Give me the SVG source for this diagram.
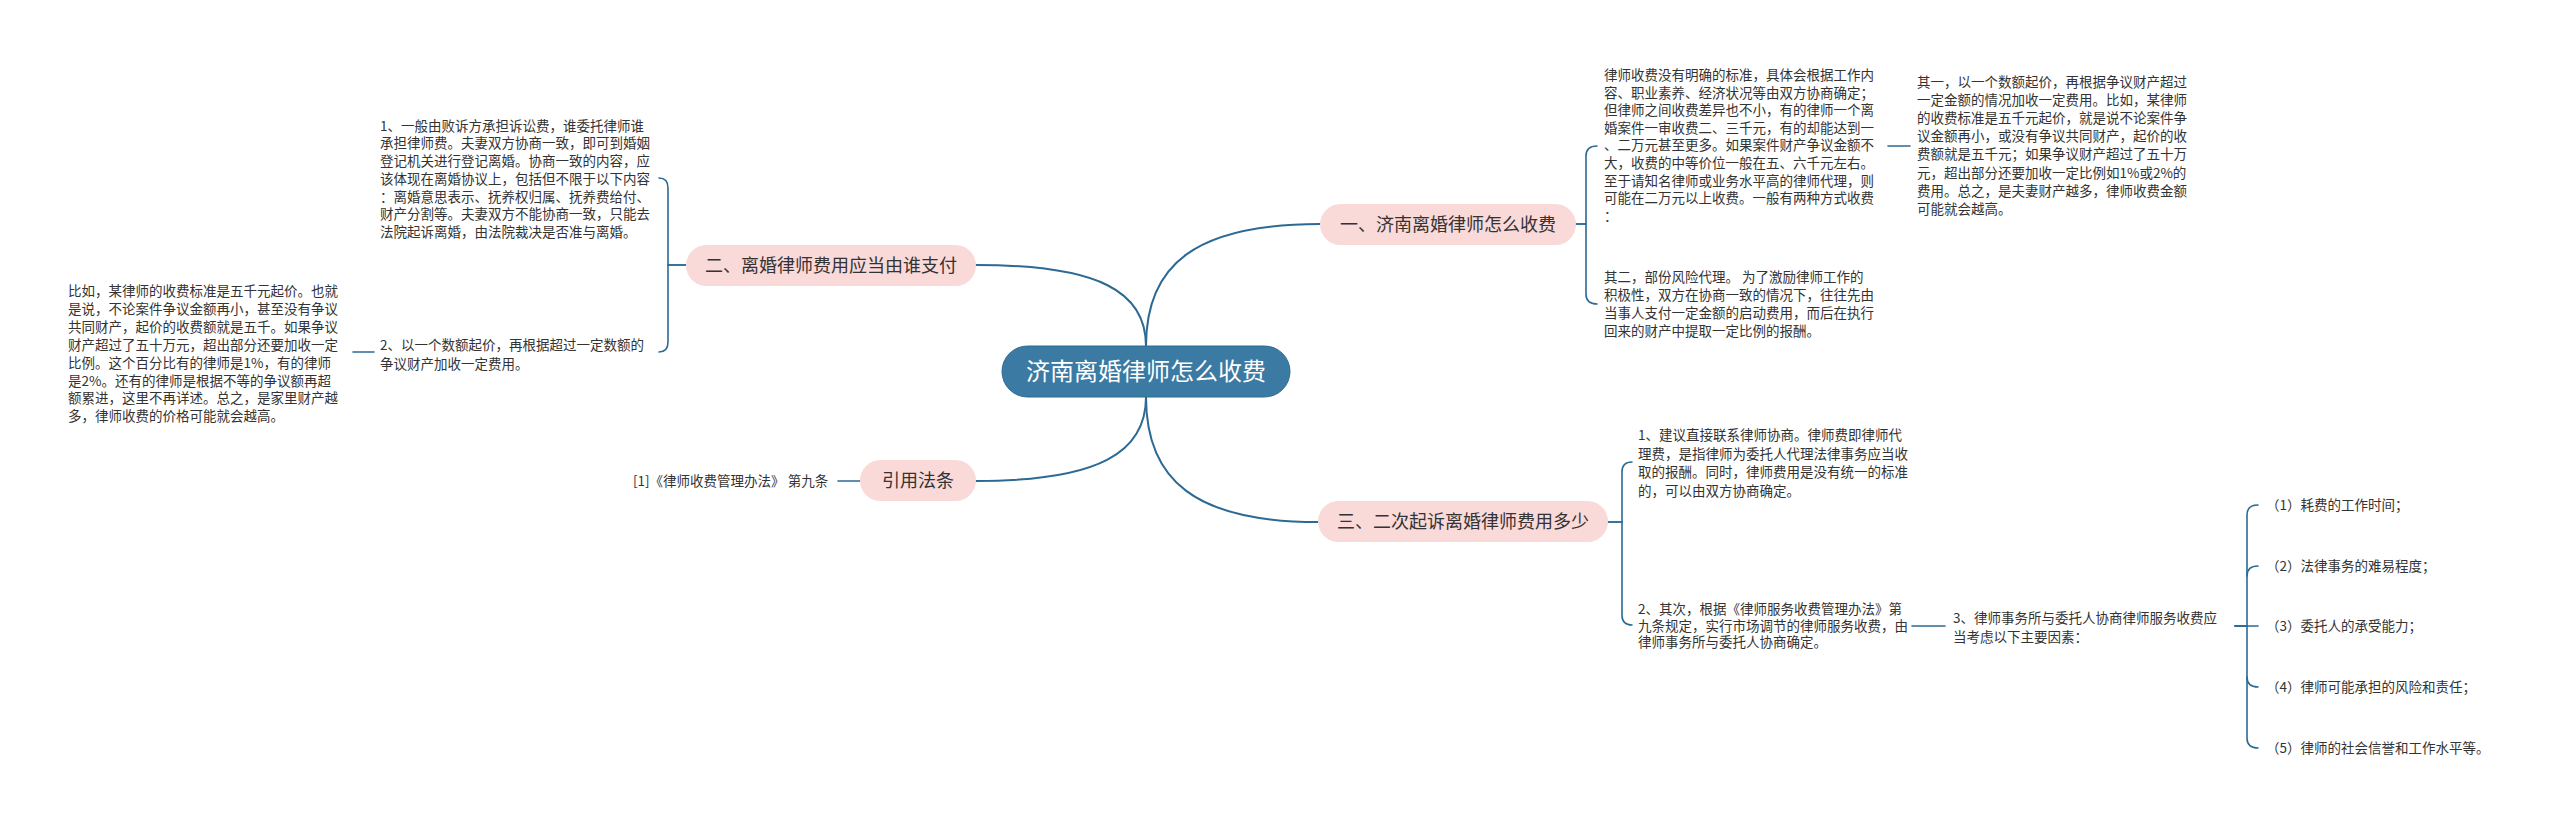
<svg xmlns="http://www.w3.org/2000/svg" width="2560" height="823" viewBox="0 0 2560 823">
<style>
.bg{fill:#ffffff}
.c{fill:none;stroke:#2c6a94;stroke-width:2;stroke-linecap:round}
.b{fill:none;stroke:#2c6a94;stroke-width:1.6;stroke-linecap:round}
.t{font-family:"Noto Sans CJK SC","Liberation Sans",sans-serif;font-size:13.5px;fill:#333333}
.pn{fill:#fad9d9}
.nt{font-family:"Noto Sans CJK SC","Liberation Sans",sans-serif;font-size:18px;fill:#333333;text-anchor:middle}
.cn{fill:#3a7aa3;stroke:#2f6a91;stroke-width:1}
.ct{font-family:"Noto Sans CJK SC","Liberation Sans",sans-serif;font-size:24px;fill:#ffffff;text-anchor:middle}
</style>
<rect class="bg" x="0" y="0" width="2560" height="823"/>
<g id="connectors">
<path class="c" d="M1146,346 C1146,265 1195,224 1320,224"/>
<path class="c" d="M1146,346 C1146,292 1100,265 976,265"/>
<path class="c" d="M1146,397 C1146,452 1100,481 976,481"/>
<path class="c" d="M1146,397 C1146,480 1195,522 1318,522"/>
<path class="b" d="M1576,224 H1586 V156 Q1586,146 1597,146"/>
<path class="b" d="M1576,224 H1586 V294 Q1586,304 1597,304"/>
<path class="b" d="M1888,146 H1910"/>
<path class="b" d="M686,265 H668 V188 Q668,178 659,178"/>
<path class="b" d="M686,265 H668 V342 Q668,352 659,352"/>
<path class="b" d="M374,352 H353"/>
<path class="b" d="M860,481 H838"/>
<path class="b" d="M1608,522 H1622 V472 Q1622,462 1632,462"/>
<path class="b" d="M1608,522 H1622 V615 Q1622,625 1632,625"/>
<path class="b" d="M1912,626 H1945"/>
<path class="b" d="M2235,626 H2247 V515 Q2247,505 2258,505"/>
<path class="b" d="M2247,576 Q2247,566 2258,566"/>
<path class="b" d="M2235,626 H2258"/>
<path class="b" d="M2247,677 Q2247,687 2258,687"/>
<path class="b" d="M2235,626 H2247 V738 Q2247,748 2258,748"/>
</g>
<g id="center">
<rect class="cn" x="1002" y="346" width="288" height="51" rx="25.5"/>
<text class="ct" x="1146" y="380">济南离婚律师怎么收费</text>
</g>
<g id="n1">
<rect class="pn" x="1320" y="204" width="256" height="41" rx="20.5"/>
<text class="nt" x="1448" y="231">一、济南离婚律师怎么收费</text>
</g>
<g id="n2">
<rect class="pn" x="686" y="245" width="290" height="41" rx="20.5"/>
<text class="nt" x="831" y="272">二、离婚律师费用应当由谁支付</text>
</g>
<g id="n3">
<rect class="pn" x="860" y="460" width="116" height="41" rx="20.5"/>
<text class="nt" x="918" y="487">引用法条</text>
</g>
<g id="n4">
<rect class="pn" x="1318" y="501" width="290" height="41" rx="20.5"/>
<text class="nt" x="1463" y="528">三、二次起诉离婚律师费用多少</text>
</g>
<g id="n1-a">
<text class="t">
<tspan x="1604" y="80">律师收费没有明确的标准，具体会根据工作内</tspan>
<tspan x="1604" y="97.6">容、职业素养、经济状况等由双方协商确定；</tspan>
<tspan x="1604" y="115.2">但律师之间收费差异也不小，有的律师一个离</tspan>
<tspan x="1604" y="132.8">婚案件一审收费二、三千元，有的却能达到一</tspan>
<tspan x="1604" y="150.4">、二万元甚至更多。如果案件财产争议金额不</tspan>
<tspan x="1604" y="168">大，收费的中等价位一般在五、六千元左右。</tspan>
<tspan x="1604" y="185.6">至于请知名律师或业务水平高的律师代理，则</tspan>
<tspan x="1604" y="203.2">可能在二万元以上收费。一般有两种方式收费</tspan>
<tspan x="1604" y="220.8">：</tspan>
</text>
</g>
<g id="n1-a-1">
<text class="t">
<tspan x="1917" y="87">其一，以一个数额起价，再根据争议财产超过</tspan>
<tspan x="1917" y="105.1">一定金额的情况加收一定费用。比如，某律师</tspan>
<tspan x="1917" y="123.2">的收费标准是五千元起价，就是说不论案件争</tspan>
<tspan x="1917" y="141.3">议金额再小，或没有争议共同财产，起价的收</tspan>
<tspan x="1917" y="159.4">费额就是五千元；如果争议财产超过了五十万</tspan>
<tspan x="1917" y="177.5">元，超出部分还要加收一定比例如1%或2%的</tspan>
<tspan x="1917" y="195.6">费用。总之，是夫妻财产越多，律师收费金额</tspan>
<tspan x="1917" y="213.7">可能就会越高。</tspan>
</text>
</g>
<g id="n1-b">
<text class="t">
<tspan x="1604" y="282">其二，部份风险代理。 为了激励律师工作的</tspan>
<tspan x="1604" y="300">积极性，双方在协商一致的情况下，往往先由</tspan>
<tspan x="1604" y="318">当事人支付一定金额的启动费用，而后在执行</tspan>
<tspan x="1604" y="336">回来的财产中提取一定比例的报酬。</tspan>
</text>
</g>
<g id="n2-a">
<text class="t">
<tspan x="380" y="130.7">1、一般由败诉方承担诉讼费，谁委托律师谁</tspan>
<tspan x="380" y="148.4">承担律师费。夫妻双方协商一致，即可到婚姻</tspan>
<tspan x="380" y="166.1">登记机关进行登记离婚。协商一致的内容，应</tspan>
<tspan x="380" y="183.8">该体现在离婚协议上，包括但不限于以下内容</tspan>
<tspan x="380" y="201.5">：离婚意思表示、抚养权归属、抚养费给付、</tspan>
<tspan x="380" y="219.2">财产分割等。夫妻双方不能协商一致，只能去</tspan>
<tspan x="380" y="236.9">法院起诉离婚，由法院裁决是否准与离婚。</tspan>
</text>
</g>
<g id="n2-b">
<text class="t">
<tspan x="380" y="350">2、以一个数额起价，再根据超过一定数额的</tspan>
<tspan x="380" y="369">争议财产加收一定费用。</tspan>
</text>
</g>
<g id="n2-b-1">
<text class="t">
<tspan x="68" y="296">比如，某律师的收费标准是五千元起价。也就</tspan>
<tspan x="68" y="313.9">是说，不论案件争议金额再小，甚至没有争议</tspan>
<tspan x="68" y="331.8">共同财产，起价的收费额就是五千。如果争议</tspan>
<tspan x="68" y="349.7">财产超过了五十万元，超出部分还要加收一定</tspan>
<tspan x="68" y="367.6">比例。这个百分比有的律师是1%，有的律师</tspan>
<tspan x="68" y="385.5">是2%。还有的律师是根据不等的争议额再超</tspan>
<tspan x="68" y="403.4">额累进，这里不再详述。总之，是家里财产越</tspan>
<tspan x="68" y="421.3">多，律师收费的价格可能就会越高。</tspan>
</text>
</g>
<g id="n3-a">
<text class="t" x="633" y="486">[1]《律师收费管理办法》 第九条</text>
</g>
<g id="n4-a">
<text class="t">
<tspan x="1638" y="440">1、建议直接联系律师协商。律师费即律师代</tspan>
<tspan x="1638" y="458.5">理费，是指律师为委托人代理法律事务应当收</tspan>
<tspan x="1638" y="477">取的报酬。同时，律师费用是没有统一的标准</tspan>
<tspan x="1638" y="495.5">的，可以由双方协商确定。</tspan>
</text>
</g>
<g id="n4-b">
<text class="t">
<tspan x="1638" y="614">2、其次，根据《律师服务收费管理办法》第</tspan>
<tspan x="1638" y="630.5">九条规定，实行市场调节的律师服务收费，由</tspan>
<tspan x="1638" y="647">律师事务所与委托人协商确定。</tspan>
</text>
</g>
<g id="n4-b-1">
<text class="t">
<tspan x="1953" y="623">3、律师事务所与委托人协商律师服务收费应</tspan>
<tspan x="1953" y="642">当考虑以下主要因素：</tspan>
</text>
</g>
<g id="n4-b-1-1"><text class="t" x="2266" y="510">（1）耗费的工作时间；</text></g>
<g id="n4-b-1-2"><text class="t" x="2266" y="571">（2）法律事务的难易程度；</text></g>
<g id="n4-b-1-3"><text class="t" x="2266" y="631">（3）委托人的承受能力；</text></g>
<g id="n4-b-1-4"><text class="t" x="2266" y="692">（4）律师可能承担的风险和责任；</text></g>
<g id="n4-b-1-5"><text class="t" x="2266" y="753">（5）律师的社会信誉和工作水平等。</text></g>
</svg>
